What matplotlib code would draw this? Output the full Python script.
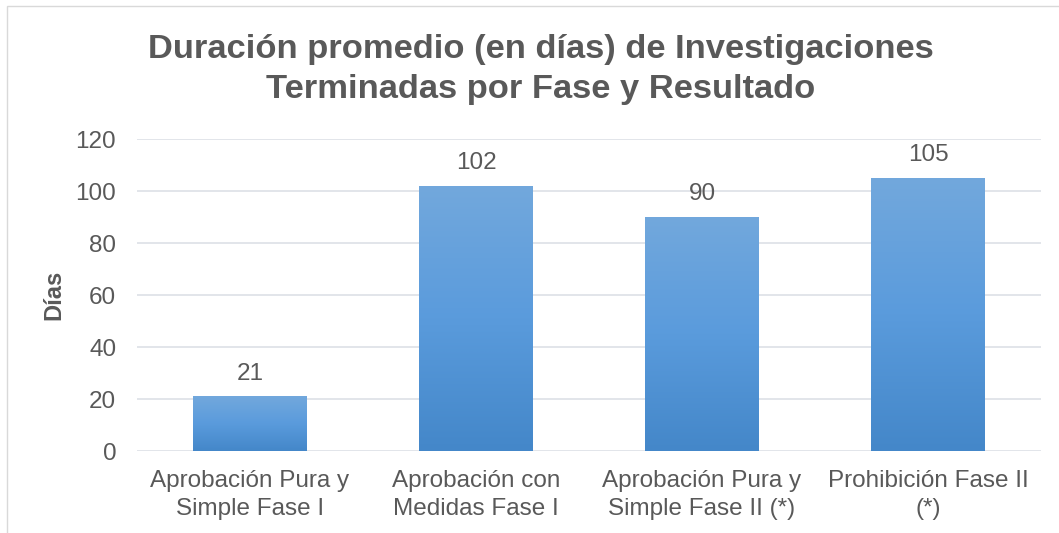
import matplotlib
matplotlib.use("Agg")
import matplotlib.pyplot as plt
import numpy as np
from matplotlib.patches import Rectangle
from matplotlib.colors import LinearSegmentedColormap

categories = ["Aprobación Pura y\nSimple Fase I", "Aprobación con\nMedidas Fase I",
              "Aprobación Pura y\nSimple Fase II (*)", "Prohibición Fase II\n(*)"]
values = [21, 102, 90, 105]
yticks = [0, 20, 40, 60, 80, 100, 120]
title = "Duración promedio (en días) de Investigaciones\nTerminadas por Fase y Resultado"
ylabel = "Días"

W, H = 1059, 533
fig = plt.figure(figsize=(W / 100, H / 100), dpi=100)
plt.rcParams['font.family'] = ['Liberation Sans', 'DejaVu Sans']
txt = "#595959"
fs = 17.5

# outer chart border
fig.patches.append(Rectangle((7 / W, -0.05), 1.2, (H - 6) / H + 0.05, transform=fig.transFigure,
                             fill=False, edgecolor="#d9d9d9", linewidth=1.0))

ax = fig.add_axes([137 / W, (H - 451) / H, (1041 - 137) / W, (451 - 139.3) / H])
x = np.arange(len(values))
width = 0.504
bars = ax.bar(x, values, width=width, color="none", zorder=3)
cmap = LinearSegmentedColormap.from_list("g", ["#4487c9", "#5a9bdc", "#72a8dd"])
grad = np.linspace(0, 1, 256).reshape(-1, 1)
for b in bars:
    x0, y0 = b.get_x(), b.get_y()
    w, h = b.get_width(), b.get_height()
    im = ax.imshow(grad, extent=[x0, x0 + w, y0, y0 + h], origin="lower", cmap=cmap,
                   aspect="auto", zorder=3, interpolation="bicubic")
    im.set_clip_path(b)
for xi, v in zip(x, values):
    ax.annotate(str(v), (xi, v), xytext=(0, 8.5), textcoords="offset points",
                ha="center", va="bottom", fontsize=fs, color=txt)

ax.set_xlim(-0.5, len(values) - 0.5)
ax.set_ylim(0, 120)
ax.set_yticks(yticks)
ax.set_yticklabels([str(t) for t in yticks], fontsize=fs, color=txt)
ax.set_xticks(x)
ax.set_xticklabels(categories, fontsize=fs, color=txt, linespacing=1.3)
ax.tick_params(axis="both", length=0)
ax.tick_params(axis="y", pad=15)
ax.tick_params(axis="x", pad=14)
ax.yaxis.grid(True, color="#dfe3e8", linewidth=1.3, zorder=0)
ax.set_axisbelow(True)
for s in ax.spines.values():
    s.set_visible(False)
ax.set_ylabel(ylabel, fontsize=17, fontweight="bold", color=txt, labelpad=7)

fig.text(541 / W, 1 - 69.5 / H, title, ha="center", va="center", fontsize=24.8,
         fontweight="bold", color=txt, linespacing=1.4)

fig.savefig("out.png", dpi=100, facecolor="white")
